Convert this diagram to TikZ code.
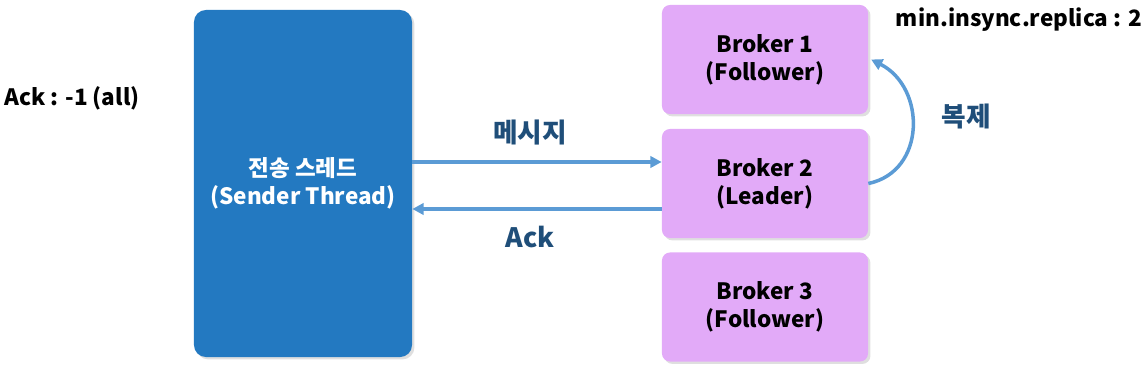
\documentclass[tikz,border=0pt]{standalone}
\usepackage{fontspec}
\setmainfont{Noto Sans CJK KR}
\usepackage{xcolor}
\usetikzlibrary{positioning, arrows.meta, shadows}

\definecolor{senderblue}{HTML}{2379C1}
\definecolor{brokerpink}{HTML}{E2AAF8}
\definecolor{arrowblue}{HTML}{5B9BD5}
\definecolor{labelblue}{HTML}{1F4E79}

\begin{document}
\begin{tikzpicture}[
    x=0.025cm, y=0.025cm,
    font=\fontsize{16}{20}\selectfont\bfseries,
    sender/.style={fill=senderblue, text=white, rounded corners=3mm, align=center,
        minimum width=5.45cm, minimum height=8.675cm,
        drop shadow={opacity=0.25, shadow xshift=0.6mm, shadow yshift=-0.6mm}},
    broker/.style={fill=brokerpink, rounded corners=2mm, align=center,
        minimum width=5.15cm, minimum height=2.725cm,
        drop shadow={opacity=0.25, shadow xshift=0.6mm, shadow yshift=-0.6mm}},
    flow/.style={-{Triangle[length=2.8mm, width=2.8mm]}, arrowblue, line width=2.5pt},
    msglabel/.style={text=labelblue, font=\fontsize{19}{22}\selectfont\bfseries}
]
\useasboundingbox (0,0) rectangle (1146,-368);

% producer side
\node[sender] (S) at (303,-183.5) {전송 스레드\\(Sender Thread)};
\node (ackall) at (72,-98) {Ack : -1 (all)};

% brokers
\node[broker] (B1) at (765,-59.5)  {Broker 1\\(Follower)};
\node[broker] (B2) at (765,-183.5) {Broker 2\\(Leader)};
\node[broker] (B3) at (765,-307)   {Broker 3\\(Follower)};
\node (isr) at (1019,-20) {min.insync.replica : 2};

% message and ack
\coordinate (msgL) at (S.east |- 0,-162);
\coordinate (msgR) at (B2.west |- 0,-162);
\coordinate (ackL) at (S.east |- 0,-209);
\coordinate (ackR) at (B2.west |- 0,-209);
\draw[flow] (msgL) -- (msgR);
\draw[flow] (ackR) -- (ackL);
\node[msglabel] (msg) at (530,-133) {메시지};
\node[msglabel] (ack) at (530,-237) {Ack};

% replication
\draw[flow] (B2.east) .. controls +(58,12) and +(55,-28) .. ([xshift=2]B1.east);
\node[msglabel] (rep) at (966,-116) {복제};
\end{tikzpicture}
\end{document}
